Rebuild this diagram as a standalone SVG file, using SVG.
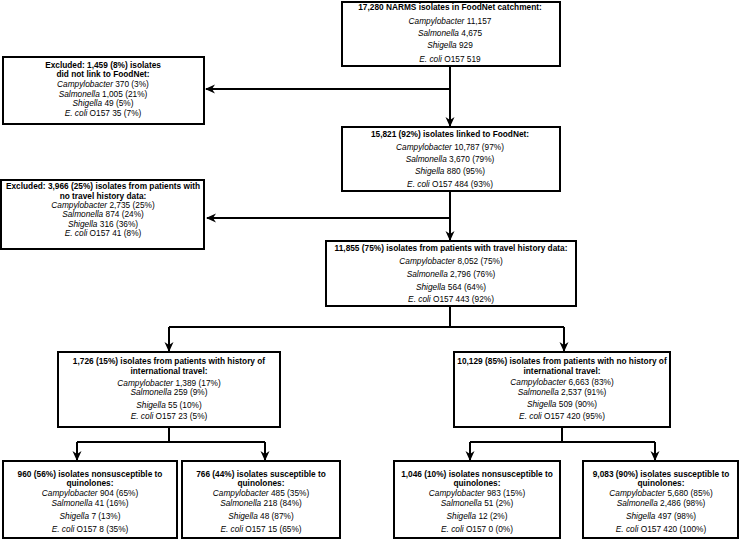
<svg xmlns="http://www.w3.org/2000/svg" width="740" height="541" viewBox="0 0 740 541">
<style>
  .box { fill: #ffffff; stroke: #000000; stroke-width: 2; }
  text { font-family: "Liberation Sans", Arial, sans-serif; font-size: 8.3px; fill: #000000; text-anchor: middle; }
  .t { font-weight: bold; }
  .i { font-style: italic; }
  .conn { fill: none; stroke: #000000; stroke-width: 2; }
</style>
<defs>
  <marker id="arr" markerUnits="userSpaceOnUse" markerWidth="10" markerHeight="10" viewBox="0 0 10 10" refX="9" refY="5" orient="auto">
    <path d="M0,0.5 L10,5 L0,9.5 L3,5 z" fill="#000000"/>
  </marker>
</defs>
<rect width="740" height="541" fill="#ffffff"/>

<g id="connectors">
  <path class="conn" d="M450,66 V126" marker-end="url(#arr)"/>
  <path class="conn" d="M450,89 H206" marker-end="url(#arr)"/>
  <path class="conn" d="M450,191 V240" marker-end="url(#arr)"/>
  <path class="conn" d="M450,218 H207" marker-end="url(#arr)"/>
  <path class="conn" d="M450,306 V327 M169,327 H564"/>
  <path class="conn" d="M169,327 V351" marker-end="url(#arr)"/>
  <path class="conn" d="M564,327 V351" marker-end="url(#arr)"/>
  <path class="conn" d="M169,427 V442 M77,442 H265"/>
  <path class="conn" d="M77,442 V460" marker-end="url(#arr)"/>
  <path class="conn" d="M265,442 V460" marker-end="url(#arr)"/>
  <path class="conn" d="M562,427 V442 M470,442 H655"/>
  <path class="conn" d="M470,442 V460" marker-end="url(#arr)"/>
  <path class="conn" d="M655,442 V460" marker-end="url(#arr)"/>
</g>

<g id="n_all">
  <rect class="box" x="342" y="2" width="218" height="64"/>
  <text x="450" y="9.5" class="t">17,280 NARMS isolates in FoodNet catchment:</text>
  <text x="450" y="24"><tspan class="i">Campylobacter</tspan> 11,157</text>
  <text x="450" y="36"><tspan class="i">Salmonella</tspan> 4,675</text>
  <text x="450" y="47.5"><tspan class="i">Shigella</tspan> 929</text>
  <text x="450" y="62"><tspan class="i">E. coli</tspan> O157 519</text>
</g>

<g id="n_excl1">
  <rect class="box" x="3" y="57" width="201" height="67"/>
  <text x="103" y="67.5" class="t">Excluded: 1,459 (8%) isolates</text>
  <text x="103" y="77" class="t">did not link to FoodNet:</text>
  <text x="103" y="87"><tspan class="i">Campylobacter</tspan> 370 (3%)</text>
  <text x="103" y="96.5"><tspan class="i">Salmonella</tspan> 1,005 (21%)</text>
  <text x="103" y="106"><tspan class="i">Shigella</tspan> 49 (5%)</text>
  <text x="103" y="116"><tspan class="i">E. coli</tspan> O157 35 (7%)</text>
</g>

<g id="n_linked">
  <rect class="box" x="342" y="127" width="218" height="64"/>
  <text x="450" y="137" class="t">15,821 (92%) isolates linked to FoodNet:</text>
  <text x="450" y="150"><tspan class="i">Campylobacter</tspan> 10,787 (97%)</text>
  <text x="450" y="161.5"><tspan class="i">Salmonella</tspan> 3,670 (79%)</text>
  <text x="450" y="173.5"><tspan class="i">Shigella</tspan> 880 (95%)</text>
  <text x="450" y="187"><tspan class="i">E. coli</tspan> O157 484 (93%)</text>
</g>

<g id="n_excl2">
  <rect class="box" x="1" y="180" width="203" height="69"/>
  <text x="103" y="189" class="t">Excluded: 3,966 (25%) isolates from patients with</text>
  <text x="103" y="198.5" class="t">no travel history data:</text>
  <text x="103" y="208"><tspan class="i">Campylobacter</tspan> 2,735 (25%)</text>
  <text x="103" y="217"><tspan class="i">Salmonella</tspan> 874 (24%)</text>
  <text x="103" y="226.5"><tspan class="i">Shigella</tspan> 316 (36%)</text>
  <text x="103" y="236"><tspan class="i">E. coli</tspan> O157 41 (8%)</text>
</g>

<g id="n_travel">
  <rect class="box" x="326" y="241" width="250" height="65"/>
  <text x="451" y="251" class="t">11,855 (75%) isolates from patients with travel history data:</text>
  <text x="451" y="264"><tspan class="i">Campylobacter</tspan> 8,052 (75%)</text>
  <text x="451" y="277"><tspan class="i">Salmonella</tspan> 2,796 (76%)</text>
  <text x="451" y="290"><tspan class="i">Shigella</tspan> 564 (64%)</text>
  <text x="451" y="301.5"><tspan class="i">E. coli</tspan> O157 443 (92%)</text>
</g>

<g id="n_intl">
  <rect class="box" x="58" y="352" width="222" height="75"/>
  <text x="169" y="364" class="t">1,726 (15%) isolates from patients with history of</text>
  <text x="169" y="373.5" class="t">international travel:</text>
  <text x="169" y="385.5"><tspan class="i">Campylobacter</tspan> 1,389 (17%)</text>
  <text x="169" y="395"><tspan class="i">Salmonella</tspan> 259 (9%)</text>
  <text x="169" y="407.5"><tspan class="i">Shigella</tspan> 55 (10%)</text>
  <text x="169" y="419"><tspan class="i">E. coli</tspan> O157 23 (5%)</text>
</g>

<g id="n_nointl">
  <rect class="box" x="454" y="352" width="216" height="75"/>
  <text x="562" y="364" class="t">10,129 (85%) isolates from patients with no history of</text>
  <text x="562" y="373.5" class="t">international travel:</text>
  <text x="562" y="385"><tspan class="i">Campylobacter</tspan> 6,663 (83%)</text>
  <text x="562" y="394.5"><tspan class="i">Salmonella</tspan> 2,537 (91%)</text>
  <text x="562" y="406.5"><tspan class="i">Shigella</tspan> 509 (90%)</text>
  <text x="562" y="418.5"><tspan class="i">E. coli</tspan> O157 420 (95%)</text>
</g>

<g id="n_intl_ns">
  <rect class="box" x="3" y="461" width="174" height="77"/>
  <text x="90" y="476.5" class="t">960 (56%) isolates nonsusceptible to</text>
  <text x="90" y="486" class="t">quinolones:</text>
  <text x="90" y="496"><tspan class="i">Campylobacter</tspan> 904 (65%)</text>
  <text x="90" y="505.5"><tspan class="i">Salmonella</tspan> 41 (16%)</text>
  <text x="90" y="519"><tspan class="i">Shigella</tspan> 7 (13%)</text>
  <text x="90" y="532"><tspan class="i">E. coli</tspan> O157 8 (35%)</text>
</g>

<g id="n_intl_s">
  <rect class="box" x="182" y="461" width="158" height="77"/>
  <text x="261" y="476.5" class="t">766 (44%) isolates susceptible to</text>
  <text x="261" y="486" class="t">quinolones:</text>
  <text x="261" y="496"><tspan class="i">Campylobacter</tspan> 485 (35%)</text>
  <text x="261" y="505.5"><tspan class="i">Salmonella</tspan> 218 (84%)</text>
  <text x="261" y="519"><tspan class="i">Shigella</tspan> 48 (87%)</text>
  <text x="261" y="532"><tspan class="i">E. coli</tspan> O157 15 (65%)</text>
</g>

<g id="n_nointl_ns">
  <rect class="box" x="394" y="461" width="166" height="77"/>
  <text x="477" y="476.5" class="t">1,046 (10%) isolates nonsusceptible to</text>
  <text x="477" y="486" class="t">quinolones:</text>
  <text x="477" y="496"><tspan class="i">Campylobacter</tspan> 983 (15%)</text>
  <text x="477" y="505.5"><tspan class="i">Salmonella</tspan> 51 (2%)</text>
  <text x="477" y="519"><tspan class="i">Shigella</tspan> 12 (2%)</text>
  <text x="477" y="532"><tspan class="i">E. coli</tspan> O157 0 (0%)</text>
</g>

<g id="n_nointl_s">
  <rect class="box" x="583" y="461" width="155" height="77"/>
  <text x="661" y="476.5" class="t">9,083 (90%) isolates susceptible to</text>
  <text x="661" y="486" class="t">quinolones:</text>
  <text x="661" y="496"><tspan class="i">Campylobacter</tspan> 5,680 (85%)</text>
  <text x="661" y="505.5"><tspan class="i">Salmonella</tspan> 2,486 (98%)</text>
  <text x="661" y="519"><tspan class="i">Shigella</tspan> 497 (98%)</text>
  <text x="661" y="532"><tspan class="i">E. coli</tspan> O157 420 (100%)</text>
</g>
</svg>
